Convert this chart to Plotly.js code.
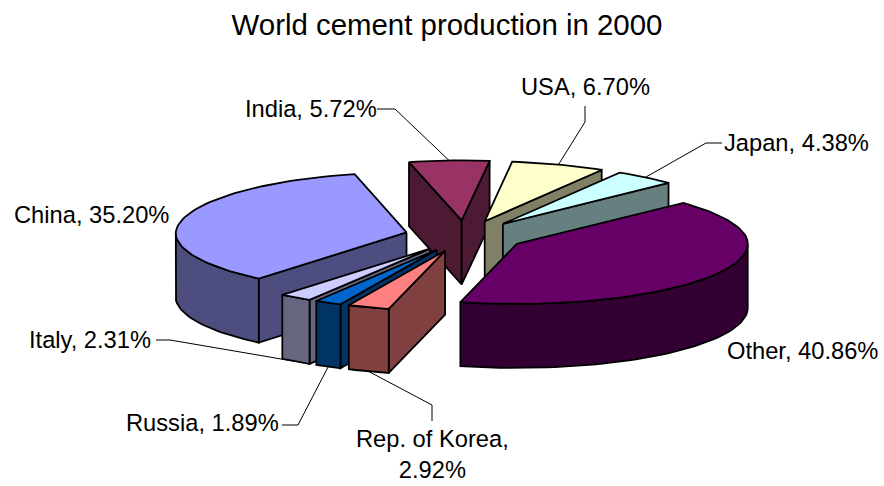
<!DOCTYPE html>
<html>
<head>
<meta charset="utf-8">
<script src="https://cdn.plot.ly/plotly-3.0.1.min.js"></script>
<style>html,body{margin:0;padding:0;background:#fff}#c{width:884px;height:486px}</style>
</head>
<body>
<div id="c"></div>
<script>
// Data, clockwise from the first slice
const categories = ["India", "USA", "Japan", "Other", "Rep. of Korea", "Russia", "Italy", "China"];
const shares = [5.72, 6.70, 4.38, 40.86, 2.92, 1.89, 2.31, 35.20];

// Styles
const topColors = ["#993366", "#FFFFCC", "#CCFFFF", "#660066", "#FF8080", "#0066CC", "#CCCCFF", "#9999FF"];
const wallColors = ["#4D1A33", "#808066", "#668080", "#330033", "#804040", "#003366", "#666680", "#4D4D80"];
const drawOrder = [0, 1, 2, 7, 6, 5, 4, 3];

// Label placement
const labelLayout = [
  {x: 377, y: 108.5, a: "right", line: [[377, 109], [395, 109]], low: false},
  {x: 585, y: 86.5, a: "center", line: [[585, 106], [585, 122]], low: false},
  {x: 724, y: 142.5, a: "left", line: [[722, 143], [706, 143]], low: false},
  {x: 727, y: 350.5, a: "left", line: null, low: false},
  {x: 432, y: 454.5, a: "center", line: [[432, 421], [432, 405]], low: true},
  {x: 126, y: 422.5, a: "left", line: [[282, 425], [298, 425]], low: true},
  {x: 29, y: 339.5, a: "left", line: [[156, 340], [170, 340]], low: true},
  {x: 14, y: 214.5, a: "left", line: null, low: false}
];

// Projection of the tilted pie onto the 884x486 plot
const cx = 465, cy = 236, rx = 231, ry = 60, depth = 64, explode = 0.26, startDeg = -13.5, backShrink = 0.018;
const total = shares.reduce((s, v) => s + v, 0);
const rad = d => d * Math.PI / 180;
const traces = [];
const annotations = [];

function poly(pts, fill, width) {
  traces.push({
    type: "scatter", mode: "lines", hoverinfo: "skip", showlegend: false,
    x: pts.map(p => p[0]), y: pts.map(p => p[1]),
    fill: fill ? "toself" : "none", fillcolor: fill || undefined,
    line: {color: "#000", width: width, shape: "linear"}
  });
}

const slices = [];
let cursor = startDeg;
shares.forEach((v, i) => {
  const a = cursor, b = cursor + v / total * 360;
  cursor = b;
  const m = (a + b) / 2;
  const ox = cx + explode * rx * Math.sin(rad(m));
  const oy = cy - explode * ry * Math.cos(rad(m));
  const rim = t => {
    const x = ox + rx * Math.sin(rad(t));
    const y = oy - ry * Math.cos(rad(t));
    const scale = 1 + backShrink * Math.min(0, (y - cy) / ry);
    return [cx + (x - cx) * scale, y];
  };
  slices.push({i, a, b, m, ox, oy, rim});
});

function arc(s, from, to) {
  const n = Math.max(2, Math.ceil((to - from) / 2)), out = [];
  for (let k = 0; k <= n; k++) out.push(s.rim(from + (to - from) * k / n));
  return out;
}
const drop = p => [p[0], p[1] + depth];

drawOrder.forEach(idx => {
  const s = slices[idx], wall = wallColors[idx], lw = 1.8;
  const apex = [s.ox, s.oy];
  const radial = t => {
    const r = s.rim(t);
    poly([apex, r, drop(r), drop(apex), apex], wall, lw);
  };
  if (Math.sin(rad(s.a)) < 0) radial(s.a);
  if (Math.sin(rad(s.b)) > 0) radial(s.b);
  const f = Math.max(s.a, 90), t = Math.min(s.b, 270);
  if (t > f) {
    const top = arc(s, f, t);
    const bottom = top.map(drop).reverse();
    const ring = top.concat(bottom);
    ring.push(top[0]);
    poly(ring, wall, lw);
  }
  const face = [apex].concat(arc(s, s.a, s.b));
  face.push(apex);
  poly(face, topColors[idx], lw);
});

slices.forEach((s, idx) => {
  const l = labelLayout[idx];
  annotations.push({
    xref: "x", yref: "y", x: l.x, y: l.y, xanchor: l.a, yanchor: "middle",
    text: idx === 4 ? categories[idx] + ",<br>" + shares[idx].toFixed(2) + "%"
                    : categories[idx] + ", " + shares[idx].toFixed(2) + "%",
    showarrow: false, align: "center", borderpad: 0, borderwidth: 0,
    font: {family: "Liberation Sans, Arial, sans-serif", size: 23.7, color: "#000"}
  });
  if (l.line) {
    let end = s.rim(s.m);
    if (l.low) end = drop(end);
    const pts = l.line.concat([end]);
    traces.push({
      type: "scatter", mode: "lines", hoverinfo: "skip", showlegend: false,
      x: pts.map(p => p[0]), y: pts.map(p => p[1]),
      line: {color: "#000", width: 1}
    });
  }
});

const hidden = {visible: false, fixedrange: true};
Plotly.newPlot("c", traces, {
  width: 884, height: 486,
  margin: {l: 0, r: 0, t: 0, b: 0},
  paper_bgcolor: "#fff", plot_bgcolor: "#fff",
  showlegend: false, hovermode: false,
  title: {
    text: "World cement production in 2000",
    font: {family: "Liberation Sans, Arial, sans-serif", size: 29.4, color: "#000"},
    x: 447 / 884, xanchor: "center", y: 1 - 25 / 486, yanchor: "middle"
  },
  xaxis: Object.assign({range: [0, 884]}, hidden),
  yaxis: Object.assign({range: [486, 0]}, hidden),
  annotations: annotations
}, {displayModeBar: false, staticPlot: true});
</script>
</body>
</html>
